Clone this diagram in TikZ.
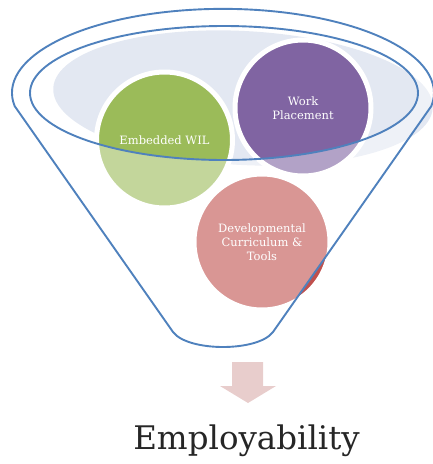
\documentclass[tikz,border=0pt]{standalone}
\usepackage{fontspec}
\setmainfont{DejaVu Serif}
\definecolor{funnelblue}{HTML}{4F81BD}
\definecolor{rimfill}{HTML}{E3E8F2}
\definecolor{wilgreen}{HTML}{9BBB59}
\definecolor{wppurple}{HTML}{8064A2}
\definecolor{dcred}{HTML}{C0504D}
\definecolor{arrowpink}{HTML}{E8CDCC}
\definecolor{outtext}{HTML}{262626}
\begin{document}
\begin{tikzpicture}[x=1pt,y=-1pt,
  ball/.style={circle, draw=white, line width=5pt, minimum size=136pt, inner sep=0pt,
    text=white, align=center, font=\fontsize{11.5}{14}\selectfont},
  funnelline/.style={draw=funnelblue, line width=1.9pt},
]
\useasboundingbox (0,0) rectangle (433,464);
% light inner surface
\fill[rimfill, rotate around={-3:(243,98)}] (243,98) ellipse [x radius=190, y radius=67];
% balls
\node[ball, fill=wilgreen] (wil) at (164.5,140) {Embedded WIL};
\node[ball, fill=wppurple] (wp) at (303,108) {Work\\Placement};
\node[ball, fill=dcred] (dc) at (262,242) {};
% translucent funnel body
\fill[white, opacity=0.4, even odd rule]
  (14.6,106) arc[start angle=171, end angle=369, x radius=211, y radius=84]
  -- (273,332) .. controls (258,352) and (188,352) .. (173,332) -- cycle
  (224,93) ellipse [x radius=194, y radius=67];
% outlines
\draw[funnelline, line join=round]
  (14.6,106) arc[start angle=171, end angle=369, x radius=211, y radius=84]
  -- (273,332) .. controls (258,352) and (188,352) .. (173,332) -- cycle;
\draw[funnelline] (224,93) ellipse [x radius=194, y radius=67];
% text of the lower ball on top
\node[text=white, align=center, font=\fontsize{11.5}{14}\selectfont] (dctext) at (dc.center) {Developmental\\Curriculum \&\\Tools};
% arrow
\fill[arrowpink] (232,362) -- (263,362) -- (263,386) -- (276,386) -- (248,403) -- (220,386) -- (232,386) -- cycle;
\node[anchor=base, text=outtext, font=\fontsize{32.5}{38}\selectfont] (emp) at (246.5,449) {Employability};
\end{tikzpicture}
\end{document}
